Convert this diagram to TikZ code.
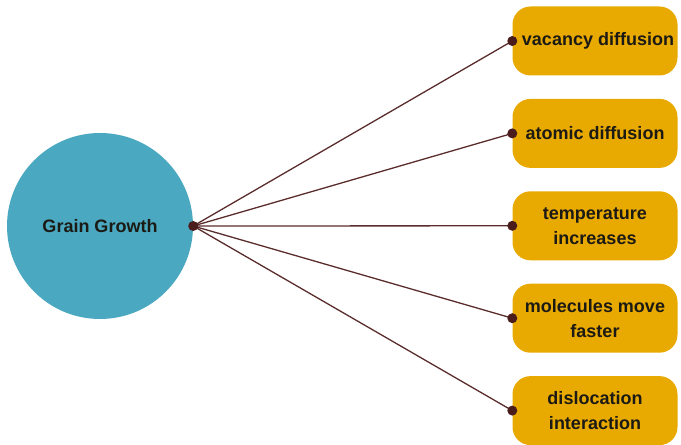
\documentclass[tikz,border=0pt]{standalone}
\usepackage{fontspec}
\setmainfont{Liberation Sans}
\usetikzlibrary{positioning}
\definecolor{hubblue}{HTML}{4AA8C1}
\definecolor{boxgold}{HTML}{E8A900}
\definecolor{linkbrown}{HTML}{5A2C2C}
\definecolor{dotbrown}{HTML}{4A1C1C}
\definecolor{inkdark}{HTML}{1C1A14}

\tikzset{
	hub/.style={circle, fill=hubblue, minimum size=186pt, inner sep=0pt, font=\bfseries\fontsize{18}{25}\selectfont, text=inkdark},
	cause/.style={rounded corners=18pt, fill=boxgold, minimum width=165pt, minimum height=69pt, align=center, font=\bfseries\fontsize{18}{25}\selectfont, text=inkdark},
	link/.style={draw=linkbrown, line width=1.3pt},
}

\begin{document}
\begin{tikzpicture}[x=1pt, y=1pt]
	\useasboundingbox (0,0) rectangle (681,445);
	\def\R{5}
	
	\node[hub]	(grain) at (100,219) {Grain Growth};
	
	\node[cause]	(vacancy) at (595,404) {\hspace*{6pt}vacancy diffusion};
	\node[cause, below=23pt of vacancy]	(atomic) {atomic diffusion};
	\node[cause, below=23pt of atomic]	(temp) {temperature\\increases};
	\node[cause, below=23pt of temp]	(faster) {molecules move\\faster};
	\node[cause, below=23pt of faster]	(disloc) {dislocation\\interaction};
	
	% spokes from the hub to every box
	\foreach \b in {vacancy, atomic, temp, faster, disloc}{
		\draw[link] (grain.east) -- (\b.west);
		\fill[dotbrown] (\b.west) circle (\R);
	}
	\fill[dotbrown] (grain.east) circle (\R);
\end{tikzpicture}
\end{document}
